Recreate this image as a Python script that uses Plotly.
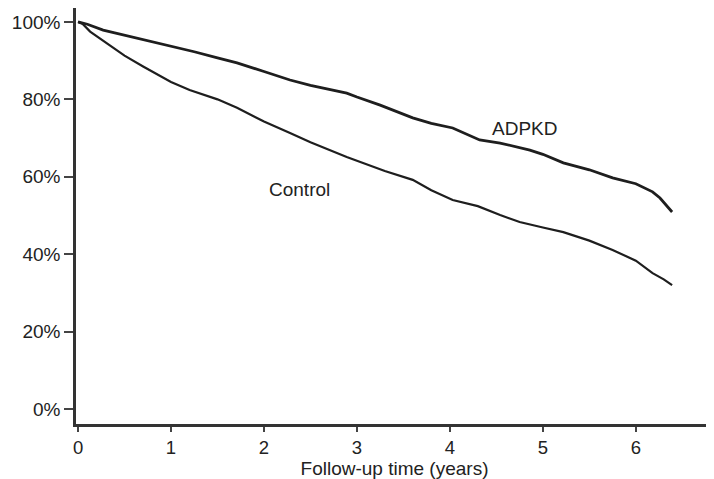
import plotly.graph_objects as go

# Survival data (years, percent)
adpkd_t = [0, 0.1, 0.27, 0.5, 0.75, 0.99, 1.25, 1.5, 1.71, 2.0, 2.17, 2.28, 2.5, 2.89, 3.0,
           3.25, 3.6, 3.8, 4.03, 4.2, 4.32, 4.54, 4.86, 5.0, 5.22, 5.5, 5.75, 6.0, 6.18,
           6.26, 6.33, 6.39]
adpkd_s = [100, 99.4, 97.9, 96.6, 95.2, 93.8, 92.3, 90.7, 89.4, 87.2, 85.9, 85.0, 83.6, 81.6, 80.6,
           78.5, 75.2, 73.8, 72.6, 70.8, 69.5, 68.7, 66.9, 65.8, 63.6, 61.8, 59.7, 58.2, 56.1,
           54.5, 52.5, 50.9]

control_t = [0, 0.05, 0.13, 0.34, 0.5, 0.7, 1.0, 1.2, 1.5, 1.71, 2.0, 2.28, 2.5, 2.89, 3.0,
             3.3, 3.6, 3.8, 4.03, 4.3, 4.54, 4.75, 5.0, 5.22, 5.5, 5.75, 6.0, 6.18, 6.3, 6.39]
control_s = [100, 99.5, 97.5, 94.0, 91.3, 88.5, 84.5, 82.4, 80.0, 77.8, 74.3, 71.3, 68.9, 65.1, 64.1,
             61.5, 59.2, 56.5, 54.0, 52.4, 50.1, 48.3, 46.9, 45.7, 43.5, 41.1, 38.3, 35.1, 33.5, 32.0]

x_ticks = [0, 1, 2, 3, 4, 5, 6]
y_ticks = [0, 20, 40, 60, 80, 100]
y_tick_labels = ["0%", "20%", "40%", "60%", "80%", "100%"]

FONT = "Liberation Sans, Arial, sans-serif"
FS = 19

fig = go.Figure()
fig.add_trace(go.Scatter(x=adpkd_t, y=adpkd_s, mode="lines", name="ADPKD",
                         line=dict(color="#1e1e1e", width=2.8)))
fig.add_trace(go.Scatter(x=control_t, y=control_s, mode="lines", name="Control",
                         line=dict(color="#1e1e1e", width=2.2)))

fig.add_annotation(x=4.43, y=72.4, text="ADPKD", xref="x", yref="y",
                   showarrow=False, xanchor="left", yanchor="middle",
                   font=dict(size=FS, color="#222", family=FONT))
fig.add_annotation(x=2.38, y=56.6, text="Control", xref="x", yref="y",
                   showarrow=False, xanchor="center", yanchor="middle",
                   font=dict(size=FS, color="#222", family=FONT))

# light right border
fig.add_shape(type="line", xref="paper", yref="paper", x0=1, x1=1, y0=0, y1=1,
              line=dict(color="#c8c8c8", width=1.5))

# page body adds an 8px offset, so the figure is sized to 706x471
fig.update_layout(
    width=706, height=471,
    margin=dict(l=68, r=1, t=0, b=55),
    plot_bgcolor="white", paper_bgcolor="white",
    showlegend=False,
    font=dict(family=FONT, size=FS, color="#222"),
)
fig.update_xaxes(range=[-0.022, 6.83], tickvals=x_ticks, ticks="outside", ticklen=5,
                 tickwidth=1.5, tickcolor="#444", showline=True, linecolor="#333",
                 linewidth=2.5, mirror=True, showgrid=False, zeroline=False,
                 automargin=False,
                 title=dict(text="Follow-up time (years)", standoff=3,
                            font=dict(size=FS, family=FONT)),
                 tickfont=dict(size=18.5, family=FONT))
fig.update_yaxes(range=[-3.88, 103.6], tickvals=y_ticks, ticktext=y_tick_labels,
                 ticks="outside", ticklen=9, tickwidth=1.5, tickcolor="#444",
                 showline=True, linecolor="#333", linewidth=2.5, showgrid=False,
                 zeroline=False, automargin=False, tickfont=dict(size=FS, family=FONT))

fig.write_html("out.html")
